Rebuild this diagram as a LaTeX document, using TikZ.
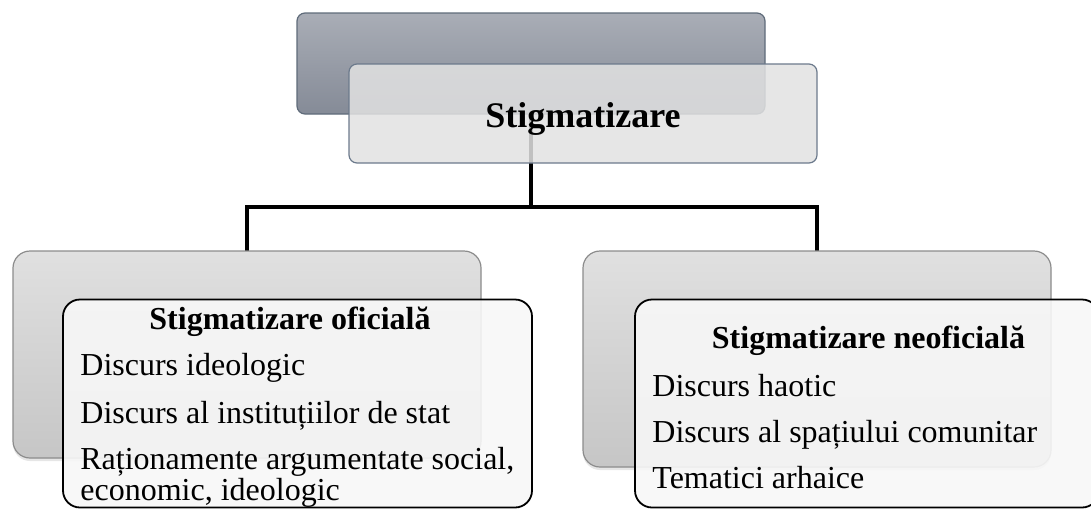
\documentclass[tikz,border=0pt]{standalone}
\usepackage{fontspec}
\setmainfont{Liberation Serif}
\usetikzlibrary{shadows}
\definecolor{slatetop}{HTML}{A9ADB6}
\definecolor{slatebot}{HTML}{858B97}
\definecolor{slateline}{HTML}{5F6B7A}
\definecolor{paleline}{HTML}{6C7A8C}
\definecolor{palefill}{HTML}{E2E2E2}
\definecolor{boxline}{HTML}{8C8C8C}
\definecolor{boxtop}{HTML}{E0E0E0}
\definecolor{boxmid}{HTML}{EDEDED}
\definecolor{boxbot}{HTML}{C6C6C6}
\definecolor{cardfill}{HTML}{F7F7F7}
\begin{document}
\begin{tikzpicture}[x=0.5pt,y=-0.5pt,
    rootback/.style={draw=slateline, line width=0.6pt, rounded corners=4pt,
      top color=slatetop, bottom color=slatebot,
      minimum width=234pt, minimum height=50.5pt},
    rootfront/.style={draw=paleline, line width=0.6pt, rounded corners=4pt,
      fill=palefill, fill opacity=0.85, text opacity=1,
      minimum width=234pt, minimum height=49.5pt,
      font=\fontsize{18}{22}\selectfont\bfseries, text height=17.5pt, text depth=4pt},
    groupback/.style={draw=boxline, line width=0.6pt, rounded corners=8.5pt,
      top color=boxtop, middle color=boxmid, bottom color=boxbot,
      drop shadow={opacity=0.2, shadow xshift=0pt, shadow yshift=-1.5pt},
      minimum width=234pt},
    groupfront/.style={draw=black, line width=0.9pt, rounded corners=8.5pt,
      fill=cardfill, fill opacity=0.9, minimum height=104pt},
    grouptitle/.style={anchor=base, inner sep=0pt, font=\fontsize{16}{16}\selectfont\bfseries},
    groupitem/.style={anchor=base west, inner sep=0pt, align=left, font=\fontsize{16}{15.5}\selectfont},
    link/.style={draw=black, line width=2.2pt}]
  \useasboundingbox (0,0) rectangle (1091,510);
  \begin{scope}
  \clip (0,0) rectangle (1091,510);
  % root
  \node[rootback] (rootback) at (531,63.5) {};
  \coordinate (fork) at (531,207);
  \draw[link] (rootback.south) -- (fork) -| (817,251);
  \draw[link] (fork) -| (247,251);
  \node[rootfront] (root) at (583,113.5) {Stigmatizare};
  % oficiala
  \node[groupback, minimum height=103.5pt] (ofback) at (247,354.5) {};
  \node[groupfront, minimum width=234.5pt] (ofcard) at (297.5,403.5) {};
  \node[grouptitle] (oftitle) at (290,329) {Stigmatizare oficială};
  \node[groupitem] (ofone) at (80,375) {Discurs ideologic};
  \node[groupitem] (oftwo) at (80,423) {Discurs al instituțiilor de stat};
  \node[groupitem] (ofthree) at (80,500) {Raționamente argumentate social,\\economic, ideologic};
  % neoficiala
  \node[groupback, minimum height=108pt] (neoback) at (817,359) {};
  \node[groupfront, minimum width=232pt] (neocard) at (867,403.5) {};
  \node[grouptitle] (neotitle) at (868.5,348) {Stigmatizare neoficială};
  \node[groupitem] (neoone) at (652,396) {Discurs haotic};
  \node[groupitem] (neotwo) at (652,442) {Discurs al spațiului comunitar};
  \node[groupitem] (neothree) at (652,488) {Tematici arhaice};
  \end{scope}
\end{tikzpicture}
\end{document}
